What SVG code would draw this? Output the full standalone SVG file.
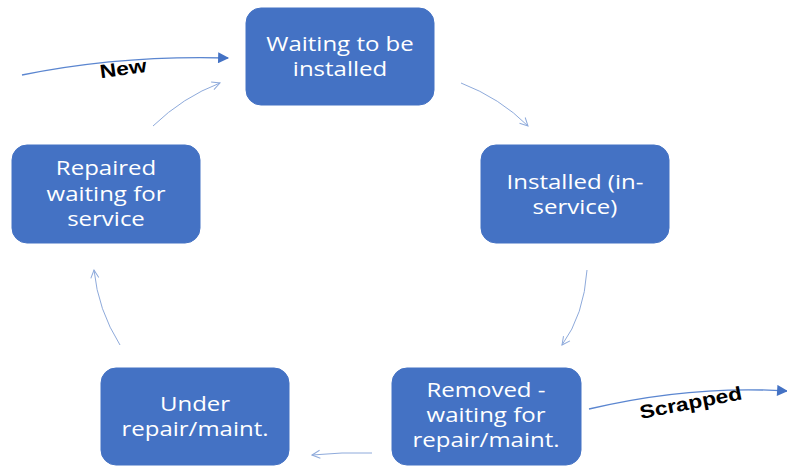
<svg xmlns="http://www.w3.org/2000/svg" width="787" height="466" viewBox="0 0 787 466">
<style>
.box{fill:#4472c4;stroke:#4472c4;stroke-width:1}
.lbl{font-family:"Open Sans","Noto Sans",sans-serif;font-size:20px;fill:#ffffff;text-anchor:middle}
.c{fill:none;stroke:#8eaadb;stroke-width:1}
.e{fill:none;stroke:#5b86d0;stroke-width:1.3}
.tag{font-family:"Liberation Sans",Arial,sans-serif;font-weight:bold;font-size:19px;fill:#000000;text-anchor:middle}
</style>
<defs>
<marker id="open" viewBox="0 0 10 10" refX="9" refY="5" markerWidth="10" markerHeight="10" markerUnits="userSpaceOnUse" orient="auto">
<path d="M1,1 L9,5 L1,9" fill="none" stroke="#8eaadb" stroke-width="1"/>
</marker>
<marker id="tri" viewBox="0 0 10 10" refX="9" refY="5" markerWidth="14" markerHeight="11" markerUnits="userSpaceOnUse" orient="auto">
<path d="M0,0 L10,5 L0,10 Z" fill="#4472c4"/>
</marker>
</defs>
<rect width="787" height="466" fill="#ffffff"/>
<g id="connectors">
<path class="c" d="M461,83 Q500,98 528,126" marker-end="url(#open)"/>
<path class="c" d="M587,270 Q584,315 562,345" marker-end="url(#open)"/>
<path class="c" d="M372,453 Q342,452 312,455" marker-end="url(#open)"/>
<path class="c" d="M120,345 Q98,310 94,270" marker-end="url(#open)"/>
<path class="c" d="M153,126 Q183,97 220,83" marker-end="url(#open)"/>
<path class="e" d="M22,75 Q120,55 228,58" marker-end="url(#tri)"/>
<path class="e" d="M589,409 Q690,385 787,391" marker-end="url(#tri)"/>
<text class="tag" transform="translate(124,75) rotate(-8) scale(1.2,1)">New</text>
<text class="tag" transform="translate(692,409) rotate(-11) scale(1.2,1)">Scrapped</text>
</g>
<g id="waiting">
<rect class="box" x="246" y="8" width="188" height="97" rx="15"/>
<g transform="translate(340,0) scale(1.2,1)">
<text class="lbl" x="0" y="51">Waiting to be</text>
<text class="lbl" x="0" y="76">installed</text>
</g>
</g>
<g id="installed">
<rect class="box" x="481" y="145" width="188" height="98" rx="15"/>
<g transform="translate(575,0) scale(1.2,1)">
<text class="lbl" x="0" y="189">Installed (in-</text>
<text class="lbl" x="0" y="214">service)</text>
</g>
</g>
<g id="removed">
<rect class="box" x="392" y="368" width="189" height="97" rx="15"/>
<g transform="translate(486,0) scale(1.2,1)">
<text class="lbl" x="0" y="397">Removed -</text>
<text class="lbl" x="0" y="422">waiting for</text>
<text class="lbl" x="0" y="447">repair/maint.</text>
</g>
</g>
<g id="under">
<rect class="box" x="101" y="368" width="188" height="97" rx="15"/>
<g transform="translate(195,0) scale(1.2,1)">
<text class="lbl" x="0" y="411">Under</text>
<text class="lbl" x="0" y="436">repair/maint.</text>
</g>
</g>
<g id="repaired">
<rect class="box" x="12" y="145" width="188" height="98" rx="15"/>
<g transform="translate(106,0) scale(1.2,1)">
<text class="lbl" x="0" y="175">Repaired</text>
<text class="lbl" x="0" y="201">waiting for</text>
<text class="lbl" x="0" y="226">service</text>
</g>
</g>
</svg>
